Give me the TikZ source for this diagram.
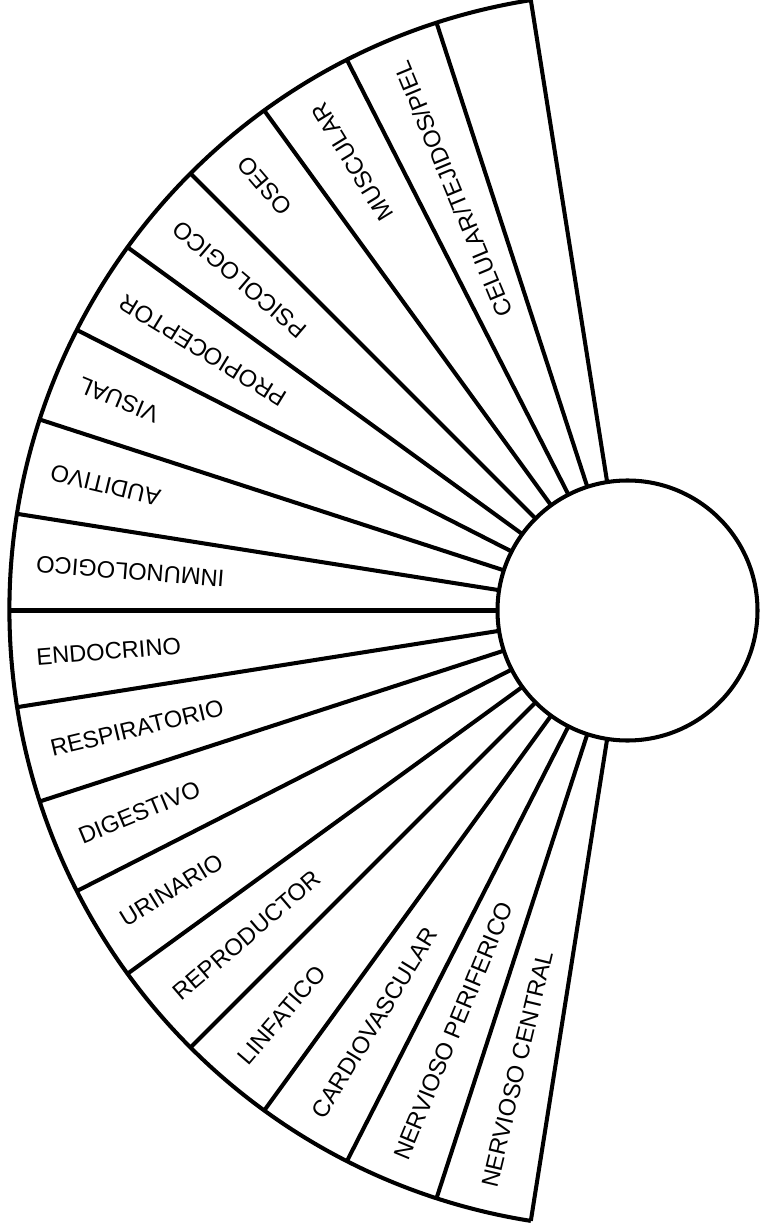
\documentclass[tikz,border=0pt]{standalone}
\usepackage{fontspec}
\setmainfont{Liberation Sans}
\tikzset{
  every picture/.style={line width=2.3pt, line join=round},
  hub/.style={draw, circle, minimum size=5.2cm, inner sep=0pt, outer sep=0pt},
  lbl/.style={font=\fontsize{13.5}{16}\selectfont, inner sep=0pt},
}

\begin{document}
\begin{tikzpicture}
  \useasboundingbox (-12.55,-12.29) rectangle (2.71,12.21);
  \node[hub] (hub) at (0,0) {};
  % rim of the fan
  \draw (99:12.36) arc[start angle=99, end angle=261, radius=12.36];
  \foreach \k in {0,...,18} {
    \pgfmathtruncatemacro\a{99+9*\k}
    \coordinate (r\k) at (\a:12.36);
    \draw (hub.\a) -- (r\k);
  }
  % upper half, read outwards
  \foreach \w [count=\k] in {CELULAR/TEJIDOS/PIEL, MUSCULAR, OSEO, PSICOLOGICO, PROPIOCEPTOR, VISUAL, AUDITIVO, INMUNOLOGICO} {
    \pgfmathsetmacro\a{103.5+9*\k}
    \node[lbl, rotate=\a, anchor=east] (u\k) at (\a:11.9) {\w};
  }
  % lower half, read inwards
  \foreach \w [count=\k] in {ENDOCRINO, RESPIRATORIO, DIGESTIVO, URINARIO, REPRODUCTOR, LINFATICO, CARDIOVASCULAR, NERVIOSO PERIFERICO, NERVIOSO CENTRAL} {
    \pgfmathsetmacro\a{175.5+9*\k}
    \node[lbl, rotate=\a-180, anchor=west] (d\k) at (\a:11.9) {\w};
  }
\end{tikzpicture}
\end{document}
